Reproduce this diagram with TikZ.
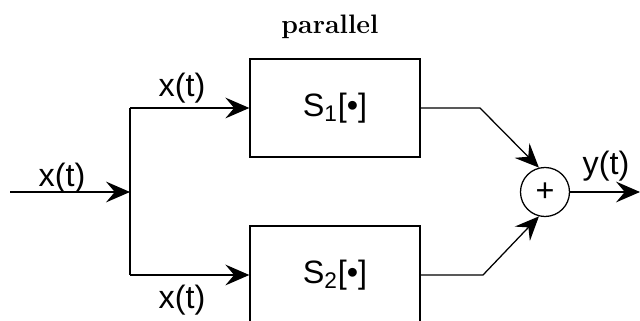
\documentclass[tikz,border=0pt]{standalone}
\usepackage{fontspec}
\setsansfont{Liberation Sans}
\usetikzlibrary{arrows.meta}
\begin{document}
\begin{tikzpicture}[x=0.025cm, y=0.025cm, line width=0.9pt, font=\sffamily\fontsize{23}{27}\selectfont,
  block/.style={draw, minimum width=4.25cm, minimum height=2.45cm, inner sep=0pt},
  adder/.style={draw, circle, minimum size=1.225cm, inner sep=0pt},
  lbl/.style={inner sep=0pt},
  >={Stealth[length=0.6cm, width=0.52cm, inset=0.22cm]}]
\useasboundingbox (0,0) rectangle (640,321);
\node (title) at (330,294) [lbl, font=\rmfamily\bfseries\fontsize{19}{21}\selectfont] {parallel};

\coordinate (in) at (10,129);
\coordinate (split) at (130,129);
\coordinate (up) at (130,213);
\coordinate (down) at (130,46);
\node (s1) at (335,213) [block] {S\textsubscript{1}[•]};
\node (s2) at (335,46) [block] {S\textsubscript{2}[•]};
\node (sum) at (545,129) [adder] {+};
\coordinate (k1) at (480,213);
\coordinate (k2) at (483,46);
\coordinate (out) at (640,129);

\node (xin) at (62,143) [lbl] {x(t)};
\node (xup) at (182,233) [lbl] {x(t)};
\node (xdown) at (182,21) [lbl] {x(t)};
\node (yout) at (606,155) [lbl] {y(t)};

\draw[->] (in) to (split);
\draw (up) to (down);
\draw[->] (up) to (s1.west);
\draw[->] (down) to (s2.west);
\draw[->] (s1.east) -- (k1) -- (sum.104);
\draw[->] (s2.east) -- (k2) -- (sum.-104);
\draw[->] (sum.east) to (out);
\end{tikzpicture}
\end{document}
